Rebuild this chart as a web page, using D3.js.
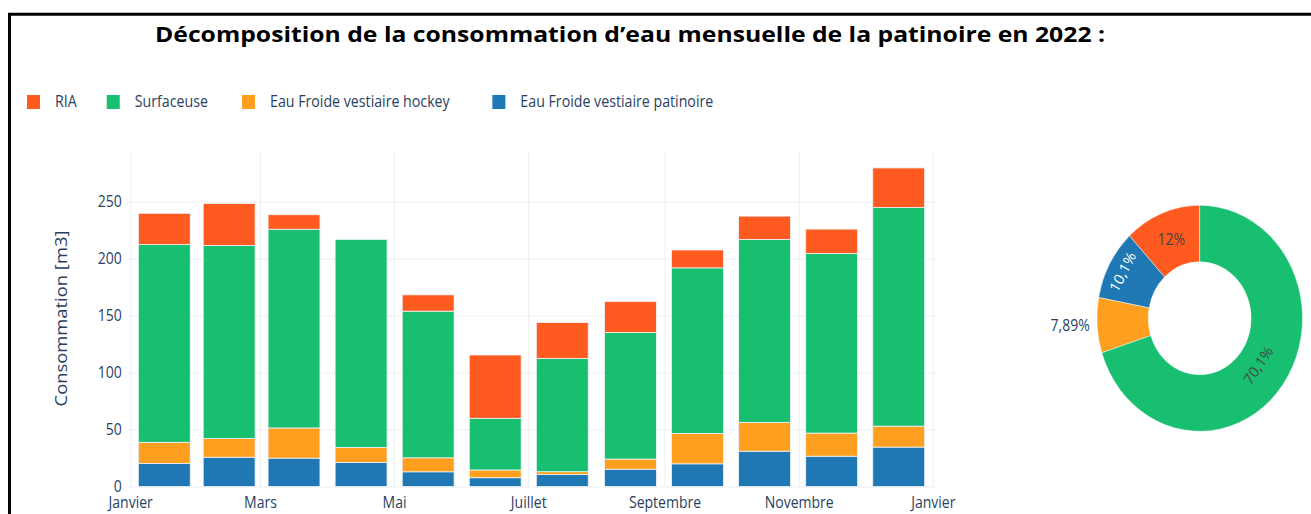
<!DOCTYPE html>
<html>
<head>
<meta charset="utf-8">
<script src="https://cdn.jsdelivr.net/npm/d3@7"></script>
<style>
  body { margin: 0; background: #fff; }
  svg { display: block; font-family: "Open Sans", Verdana, Arial, sans-serif; }
</style>
</head>
<body>
<svg id="chart" width="1311" height="514"></svg>
<script>
// ---- data (m3 per month, 2022)
const months = ["Janvier", "Février", "Mars", "Avril", "Mai", "Juin", "Juillet", "Août", "Septembre", "Octobre", "Novembre", "Décembre"];
const seriesNames = ["RIA", "Surfaceuse", "Eau Froide vestiaire hockey", "Eau Froide vestiaire patinoire"];
const patinoire  = [20.2, 25.7, 24.9, 21.1, 12.9, 7.7, 10.6, 15.2, 19.9, 31.0, 26.6, 34.6];
const hockey     = [18.6, 16.5, 26.5, 13.2, 12.3, 6.8, 2.4, 8.9, 26.7, 25.3, 20.3, 18.4];
const surfaceuse = [173.5, 169.4, 174.4, 182.6, 128.7, 45.4, 99.4, 111.1, 145.3, 160.6, 157.7, 191.9];
const ria        = [27.5, 36.8, 12.7, 0, 14.3, 55.5, 31.5, 27.1, 15.7, 20.4, 21.3, 34.7];

const title = "Décomposition de la consommation d’eau mensuelle de la patinoire en 2022 :";
const yTitle = "Consommation [m3]";

const series = { ria: ria, surfaceuse: surfaceuse, hockey: hockey, patinoire: patinoire };
const legendKeys = ["ria", "surfaceuse", "hockey", "patinoire"];
const stackKeys = ["patinoire", "hockey", "surfaceuse", "ria"];
const pieKeys = ["ria", "patinoire", "hockey", "surfaceuse"];
const colors = { ria: "#ff5a1f", surfaceuse: "#19bf71", hockey: "#ff9f1f", patinoire: "#1f77b4" };

// the source picture is squeezed horizontally
const SX = 0.91;
const axisColor = "#2a3f5f";
const gridColor = "#ebeef2";

const svg = d3.select("#chart");

// frame
svg.append("path")
  .attr("d", "M9.5,514 V14.2 H1311")
  .attr("fill", "none")
  .attr("stroke", "#000")
  .attr("stroke-width", 3);

// title
svg.append("text")
  .attr("x", 630).attr("y", 41.5)
  .attr("text-anchor", "middle")
  .attr("textLength", 950)
  .attr("lengthAdjust", "spacingAndGlyphs")
  .style("font-family", "'Open Sans', sans-serif")
  .style("font-weight", 700)
  .style("font-size", "20.5px")
  .attr("fill", "#000")
  .text(title);

// ---- legend
let lx = 27;
legendKeys.forEach((k, i) => {
  svg.append("rect")
    .attr("x", lx).attr("y", 95)
    .attr("width", 13).attr("height", 14)
    .attr("fill", colors[k]);
  const t = svg.append("text")
    .attr("transform", `translate(${lx + 28},102) scale(${SX},1)`)
    .attr("dy", "0.35em")
    .style("font-size", "15.6px")
    .attr("fill", axisColor)
    .text(seriesNames[i]);
  const w = t.node().getComputedTextLength() * SX;
  lx += 28 + w * 1.08 + 28.3;
});

// ---- bar chart
const plotLeft = 128, plotRight = 935, plotTop = 152, plotBottom = 486.5;

const monthStart = months.map((m, i) => new Date(2022, i, 1));
const mids = monthStart.map(d => new Date((+d + +d3.timeMonth.offset(d, 1)) / 2));

const rows = months.map((m, i) => ({
  date: mids[i],
  ria: ria[i], surfaceuse: surfaceuse[i], hockey: hockey[i], patinoire: patinoire[i]
}));
const totals = rows.map(r => stackKeys.reduce((s, k) => s + r[k], 0));

const x = d3.scaleTime()
  .domain([d3.timeDay.offset(monthStart[0], -1), d3.timeDay.offset(d3.timeYear.offset(monthStart[0], 1), 1)])
  .range([plotLeft, plotRight]);
const y = d3.scaleLinear()
  .domain([0, d3.max(totals) * 1.05])
  .range([plotBottom, plotTop]);

// y grid + labels
const yAxis = svg.append("g")
  .attr("transform", `translate(${plotLeft},0)`)
  .call(d3.axisLeft(y).ticks(6).tickSize(-(plotRight - plotLeft)));
yAxis.select(".domain").remove();
yAxis.selectAll("line").attr("stroke", gridColor).attr("stroke-width", 1);
yAxis.selectAll("text")
  .attr("x", 0)
  .attr("dy", "0.3em")
  .attr("transform", `translate(-6.3,0) scale(${SX},1)`)
  .attr("fill", axisColor)
  .style("font-size", "15.4px")
  .style("font-family", "'Open Sans', sans-serif");

// x grid + labels
const xAxis = svg.append("g")
  .attr("transform", `translate(0,${plotBottom})`)
  .call(d3.axisBottom(x)
    .ticks(d3.timeMonth.every(2))
    .tickSize(-(plotBottom - plotTop))
    .tickFormat(d => months[d.getMonth()]));
xAxis.select(".domain").remove();
xAxis.selectAll("line").attr("stroke", gridColor).attr("stroke-width", 1);
xAxis.selectAll("text")
  .attr("y", 21.5).attr("dy", 0)
  .attr("transform", `scale(${SX},1)`)
  .attr("fill", axisColor)
  .style("font-size", "15.4px")
  .style("font-family", "'Open Sans', sans-serif");

// bars
const step = d3.min(d3.pairs(mids), ([a, b]) => x(b) - x(a));
const barW = step * 0.8;
const stacked = d3.stack().keys(stackKeys)(rows);

svg.append("g")
  .selectAll("g")
  .data(stacked)
  .join("g")
  .attr("fill", s => colors[s.key])
  .selectAll("rect")
  .data(s => s.filter(d => d[1] - d[0] > 0))
  .join("rect")
  .attr("x", d => x(d.data.date) - barW / 2)
  .attr("width", barW)
  .attr("y", d => y(d[1]))
  .attr("height", d => y(d[0]) - y(d[1]))
  .attr("stroke", "#eef2f8")
  .attr("stroke-width", 0.8);

// y title
svg.append("text")
  .attr("transform", `translate(67,318.5) scale(${SX},1) rotate(-90)`)
  .attr("text-anchor", "middle")
  .attr("fill", axisColor)
  .style("font-size", "18.4px")
  .text(yTitle);

// ---- donut
const R = 113, hole = 0.5, TEXTPAD = 3;
const pieTotals = pieKeys.map(k => d3.sum(series[k]));
const grand = d3.sum(pieTotals);
const arcs = d3.pie().sort(null).startAngle(0).endAngle(-2 * Math.PI)(pieTotals);
const arc = d3.arc().innerRadius(R * hole).outerRadius(R);

const donut = svg.append("g").attr("transform", `translate(1199.7,318.3) scale(${SX},1)`);
donut.selectAll("path")
  .data(arcs)
  .join("path")
  .attr("d", arc)
  .attr("fill", (d, i) => colors[pieKeys[i]])
  .attr("stroke", "#fff")
  .attr("stroke-width", 0.5);

const fr = d3.formatLocale({ decimal: ",", thousands: "\u00a0", grouping: [3], currency: ["", " €"] });
const pct = v => fr.format(".3~r")(v) + "%";

const labelMode = { ria: "horizontal", patinoire: "tangential", hockey: "outside", surfaceuse: "tangential" };
const insideColor = { ria: "#444", patinoire: "#fff", hockey: "#444", surfaceuse: "#444" };

function maxHalfSize(a, halfAngle, r, ring) {
  const q = a + 1 / (2 * Math.tan(halfAngle));
  return r * Math.min(1 / (Math.sqrt(q * q + 0.5) + q), ring / (Math.sqrt(a * a + ring / 2) + a));
}

arcs.forEach((d, i) => {
  const k = pieKeys[i];
  const mode = labelMode[k];
  const mid = (d.startAngle + d.endAngle) / 2;
  const half = Math.abs(d.endAngle - d.startAngle) / 2;
  const ring = 1 - hole;
  const t = donut.append("text")
    .attr("text-anchor", "middle")
    .attr("dy", "0.35em")
    .style("font-size", "15.4px")
    .attr("fill", mode === "outside" ? axisColor : insideColor[k])
    .text(pct(d.value / grand * 100));
  let rc, rot = 0;
  if (mode === "outside") {
    const rr = R + 8;
    t.attr("text-anchor", Math.sin(mid) < 0 ? "end" : "start")
      .attr("transform", `translate(${Math.sin(mid) * rr},${-Math.cos(mid) * rr})`);
    return;
  }
  if (mode === "horizontal") {
    rc = 1 - Math.min(1 / (1 + 1 / Math.sin(half)), ring / 2);
  } else {
    const bb = t.node().getBBox();
    const a = bb.height / bb.width;
    const r = R - 2 * TEXTPAD;
    const c = maxHalfSize(a, half, r, ring);
    rc = Math.cos(c / r) - a * (c / r);
    rot = mid * 180 / Math.PI;
    while (rot > 90) rot -= 180;
    while (rot < -90) rot += 180;
  }
  t.attr("transform", `translate(${Math.sin(mid) * R * rc},${-Math.cos(mid) * R * rc}) rotate(${rot})`);
});
</script>
</body>
</html>
